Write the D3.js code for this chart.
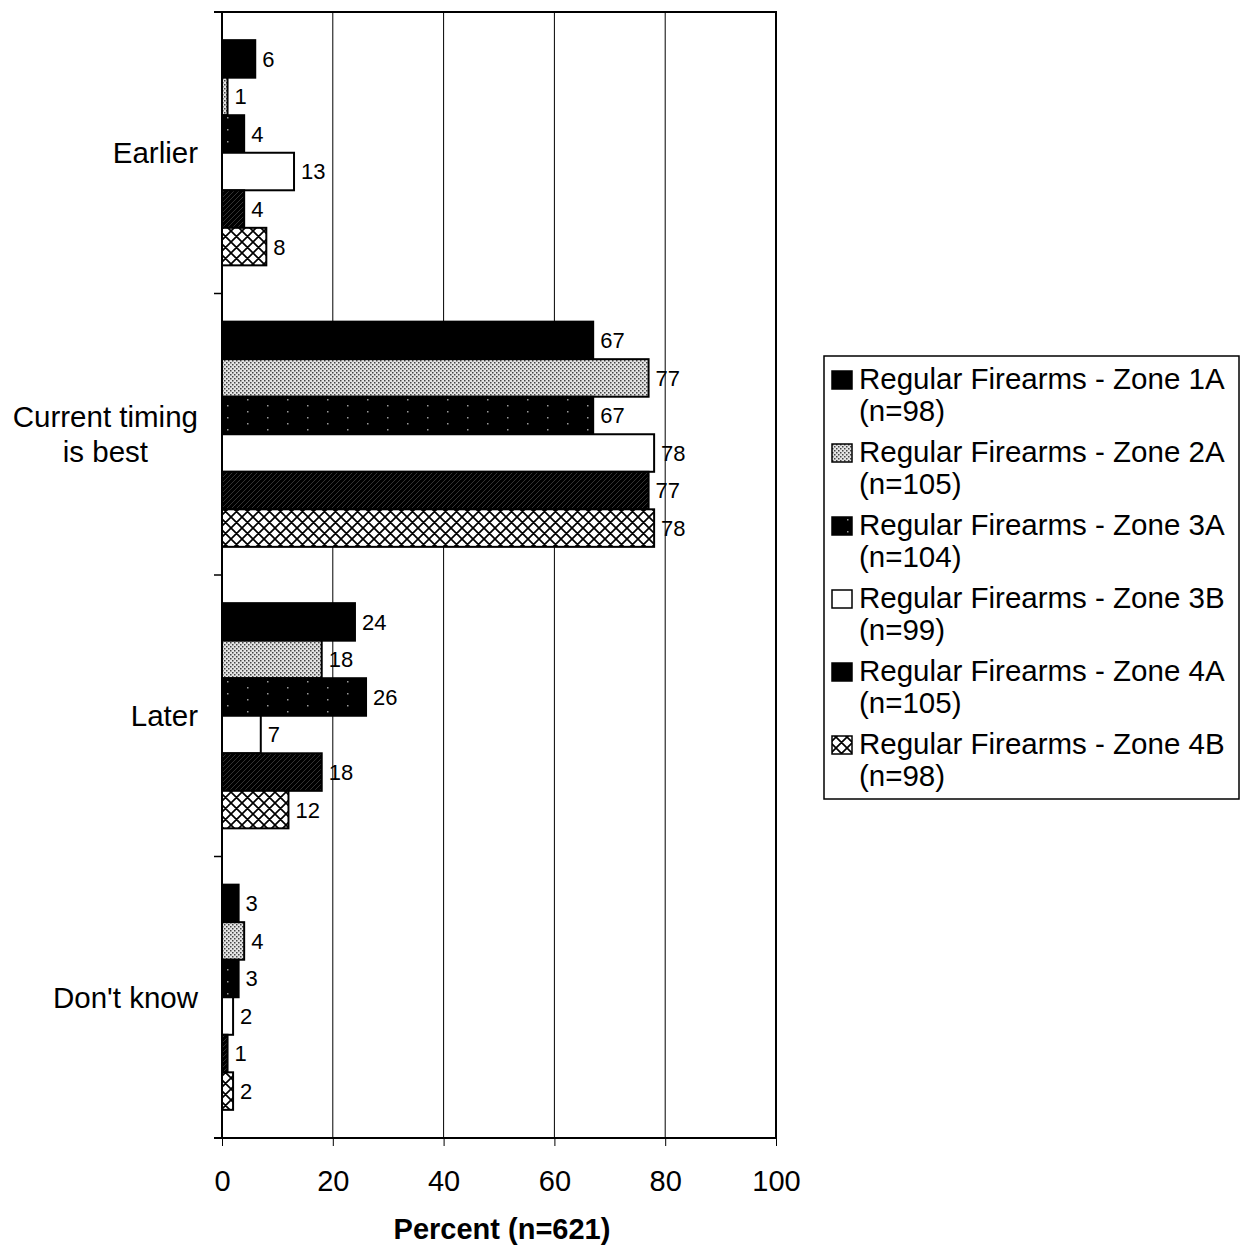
<!DOCTYPE html>
<html><head><meta charset="utf-8">
<script src="https://cdnjs.cloudflare.com/ajax/libs/d3/7.8.5/d3.min.js"></script>
<style>body{margin:0;background:#fff}svg{display:block;font-family:Arial,"Liberation Sans",sans-serif}</style>
</head><body><svg id="c" width="1241" height="1245"></svg>
<script>
const categories = [["Earlier"], ["Current timing", "is best"], ["Later"], ["Don't know"]];
const seriesNames = ["Regular Firearms - Zone 1A", "Regular Firearms - Zone 2A", "Regular Firearms - Zone 3A", "Regular Firearms - Zone 3B", "Regular Firearms - Zone 4A", "Regular Firearms - Zone 4B"];
const seriesN = ["(n=98)", "(n=105)", "(n=104)", "(n=99)", "(n=105)", "(n=98)"];
const zone1A = [6, 67, 24, 3];
const zone2A = [1, 77, 18, 4];
const zone3A = [4, 67, 26, 3];
const zone3B = [13, 78, 7, 2];
const zone4A = [4, 77, 18, 1];
const zone4B = [8, 78, 12, 2];
const xTicks = [0, 20, 40, 60, 80, 100];
const axisTitle = "Percent (n=621)";

const series = [zone1A, zone2A, zone3A, zone3B, zone4A, zone4B];
const fills = ["#000", "url(#p2a)", "url(#p3a)", "#fff", "url(#p4a)", "url(#p4b)"];
const legendFills = ["#000", "url(#p2a)", "url(#p3a)", "#fff", "#000", "url(#p4b)"];

const svg = d3.select("#c");
const defs = svg.append("defs");
// Zone 2A: light dotted
let p = defs.append("pattern").attr("id","p2a").attr("width",4).attr("height",4).attr("patternUnits","userSpaceOnUse");
p.append("rect").attr("width",4).attr("height",4).attr("fill","#e4e4e4");
p.append("rect").attr("x",0).attr("y",0).attr("width",1.5).attr("height",1.5).attr("fill","#444");
p.append("rect").attr("x",2).attr("y",2).attr("width",1.5).attr("height",1.5).attr("fill","#444");
// Zone 3A: black with sparse specks
p = defs.append("pattern").attr("id","p3a").attr("width",40).attr("height",12).attr("patternUnits","userSpaceOnUse");
p.append("rect").attr("width",40).attr("height",12).attr("fill","#000");
p.append("rect").attr("x",7).attr("y",3).attr("width",1.5).attr("height",1.5).attr("fill","#999");
p.append("rect").attr("x",27).attr("y",9).attr("width",1.5).attr("height",1.5).attr("fill","#999");
// Zone 4A: black with faint gray diagonal hatch
p = defs.append("pattern").attr("id","p4a").attr("width",5).attr("height",5).attr("patternUnits","userSpaceOnUse");
p.append("rect").attr("width",5).attr("height",5).attr("fill","#000");
p.append("path").attr("d","M0,5 L5,0 M-1,1 L1,-1 M4,6 L6,4").attr("stroke","#333").attr("stroke-width",1);
// Zone 4B: crosshatch
p = defs.append("pattern").attr("id","p4b").attr("width",11).attr("height",11).attr("patternUnits","userSpaceOnUse");
p.append("rect").attr("width",11).attr("height",11).attr("fill","#fff");
p.append("path").attr("d","M0,0 L11,11 M11,0 L0,11 M-1,10 L1,12 M10,-1 L12,1 M-1,1 L1,-1 M10,12 L12,10").attr("stroke","#000").attr("stroke-width",1.7);

const pLeft = 222, pRight = 776, pTop = 12, pBottom = 1138;
const x = d3.scaleLinear().domain([0, 100]).range([pLeft, pRight]);
const y = d3.scaleBand().domain(d3.range(categories.length)).range([pTop, pBottom]).paddingInner(0.2).paddingOuter(0.1);
const inner = d3.scaleBand().domain(d3.range(series.length)).range([0, y.bandwidth()]);

// gridlines
svg.append("g").selectAll("line").data(xTicks.slice(1)).join("line")
  .attr("x1", d => x(d)).attr("x2", d => x(d)).attr("y1", pTop).attr("y2", pBottom)
  .attr("stroke", "#000").attr("stroke-width", 1);
// frame top/right
svg.append("path").attr("d", `M${pLeft-8},${pTop} H${pRight} V${pBottom}`).attr("fill","none").attr("stroke","#000").attr("stroke-width",2);

// bars
const g = svg.append("g");
series.forEach((vals, si) => {
  g.append("g").selectAll("rect").data(vals).join("rect")
    .attr("x", x(0)).attr("y", (d, ci) => y(ci) + inner(si))
    .attr("width", d => x(d) - x(0)).attr("height", inner.bandwidth())
    .attr("fill", fills[si]).attr("stroke", "#000").attr("stroke-width", 2);
  g.append("g").selectAll("text").data(vals).join("text")
    .attr("x", d => x(d) + 7).attr("y", (d, ci) => y(ci) + inner(si) + inner.bandwidth()/2)
    .attr("dy", "0.36em").attr("font-size", 22).text(d => d);
});

// x axis
const xa = svg.append("g").attr("transform", `translate(0,${pBottom})`)
  .call(d3.axisBottom(x).tickValues(xTicks).tickSize(8).tickPadding(24).tickSizeOuter(0));
xa.select(".domain").attr("stroke-width", 2).attr("d", `M${pLeft-8},0H${pRight}`);
xa.selectAll("text").attr("font-size", 29).attr("font-family", "Arial, Liberation Sans, sans-serif").attr("fill","#000");
// y axis
const catBounds = d3.range(categories.length + 1).map(i => pTop + i * (pBottom - pTop) / categories.length);
svg.append("line").attr("x1", pLeft).attr("x2", pLeft).attr("y1", pTop).attr("y2", pBottom).attr("stroke","#000").attr("stroke-width",2);
svg.append("g").selectAll("line").data(catBounds).join("line")
  .attr("x1", pLeft - 8).attr("x2", pLeft).attr("y1", d => d).attr("y2", d => d).attr("stroke","#000").attr("stroke-width",1.5);

// category labels
categories.forEach((lines, ci) => {
  const cy = y(ci) + y.bandwidth()/2;
  const t = svg.append("text").attr("font-size", 29.5).attr("text-anchor", "middle");
  lines.forEach((l, li) => t.append("tspan").text(l));
  const tsp = t.selectAll("tspan");
  let maxW = 0; tsp.each(function(){ maxW = Math.max(maxW, this.getComputedTextLength()); });
  const cx = 198 - maxW/2;
  const lh = 35;
  tsp.attr("x", cx).attr("y", (d, li) => cy + (li - (lines.length - 1)/2) * lh).attr("dy", "0.36em");
});

// axis title
svg.append("text").attr("x", 502).attr("y", 1239).attr("text-anchor","middle").attr("font-weight","bold").attr("font-size", 29).text(axisTitle);

// legend
const lg = svg.append("g");
lg.append("rect").attr("x", 824).attr("y", 356).attr("width", 415).attr("height", 443).attr("fill","#fff").attr("stroke","#000").attr("stroke-width",1.5);
seriesNames.forEach((name, si) => {
  const by = 389 + si * 73;
  lg.append("rect").attr("x", 832).attr("y", by - 18).attr("width", 20).attr("height", 18)
    .attr("fill", legendFills[si]).attr("stroke", "#000").attr("stroke-width", 1.5);
  lg.append("text").attr("x", 859).attr("y", by).attr("font-size", 29.5).text(name);
  lg.append("text").attr("x", 859).attr("y", by + 32).attr("font-size", 29.5).text(seriesN[si]);
});
</script></body></html>
